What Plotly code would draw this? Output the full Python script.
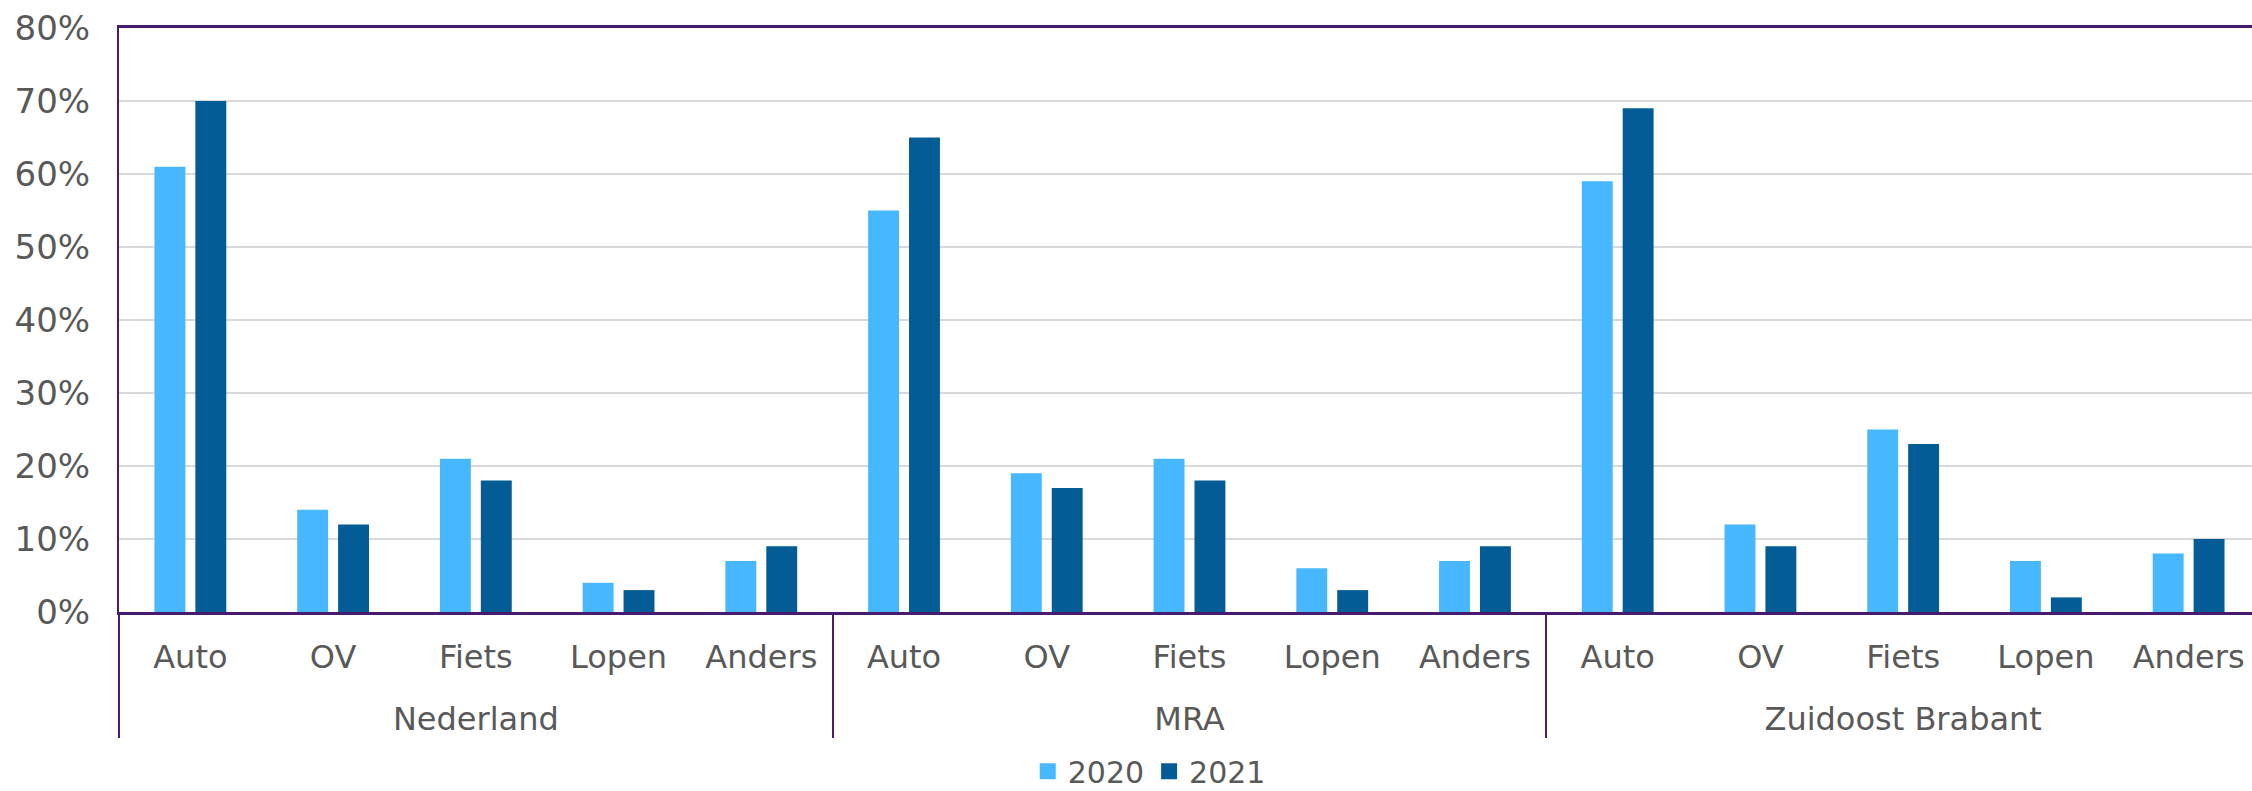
import plotly.graph_objects as go

regions = ["Nederland", "MRA", "Zuidoost Brabant"]
modes = ["Auto", "OV", "Fiets", "Lopen", "Anders"]
years = ["2020", "2021"]
values_2020 = [0.61, 0.14, 0.21, 0.04, 0.07,
               0.55, 0.19, 0.21, 0.06, 0.07,
               0.59, 0.12, 0.25, 0.07, 0.08]
values_2021 = [0.70, 0.12, 0.18, 0.03, 0.09,
               0.65, 0.17, 0.18, 0.03, 0.09,
               0.69, 0.09, 0.23, 0.02, 0.10]
y_ticks = [0, 0.1, 0.2, 0.3, 0.4, 0.5, 0.6, 0.7, 0.8]

colors = {"2020": "#47B8FF", "2021": "#035C96"}
TEXT = "#595959"
PURPLE = "#4A1A6E"
FONT = "DejaVu Sans"
FS = 32

nm = len(modes)
x_labels = [m for _ in regions for m in modes]
x_pos = list(range(len(x_labels)))
group_centers = [i * nm + (nm - 1) / 2 for i in range(len(regions))]
group_bounds = [i * nm - 0.5 for i in range(len(regions))]

fig = go.Figure()
for yr, vals in zip(years, [values_2020, values_2021]):
    fig.add_trace(go.Bar(
        x=x_pos, y=vals, name=yr,
        marker=dict(color=colors[yr], line=dict(width=0)),
        showlegend=False, xaxis="x", yaxis="y",
    ))
for yr, xa in zip(years, ["x2", "x3"]):
    fig.add_trace(go.Scatter(
        x=[None], y=[None], mode="markers", name=yr, xaxis=xa, yaxis="y",
        marker=dict(symbol="square", size=18, color=colors[yr]),
        showlegend=True,
    ))

xr = [-0.5, len(x_labels) - 0.556]
fig.update_layout(
    width=2252, height=791,
    margin=dict(l=119, r=0, t=28, b=179, autoexpand=False),
    paper_bgcolor="white", plot_bgcolor="white",
    font=dict(family=FONT, size=FS, color=TEXT),
    barmode="group", bargap=0.427, bargroupgap=0.244,
    legend=dict(orientation="h", x=0.483, xanchor="center",
                yref="container", y=0.025, yanchor="middle",
                font=dict(family=FONT, size=30, color=TEXT),
                itemclick=False, traceorder="normal"),
    xaxis=dict(range=xr, tickvals=x_pos, ticktext=x_labels,
               showline=True, linecolor=PURPLE, linewidth=3, mirror=True,
               showgrid=False, zeroline=False, ticks="", automargin=False,
               ticklabelstandoff=15,
               tickfont=dict(family=FONT, size=FS, color=TEXT)),
    xaxis2=dict(overlaying="x", matches="x", anchor="y", side="bottom",
                range=xr, tickvals=group_centers, ticktext=regions,
                showline=False, showgrid=False, zeroline=False, ticks="",
                automargin=False, ticklabelstandoff=85,
                tickfont=dict(family=FONT, size=FS, color=TEXT)),
    xaxis3=dict(overlaying="x", matches="x", anchor="y", side="bottom",
                range=xr, tickvals=group_bounds, showticklabels=False,
                showline=False, showgrid=False, zeroline=False,
                ticks="outside", ticklen=125, tickwidth=2, tickcolor=PURPLE,
                automargin=False),
    yaxis=dict(range=[0, 0.8], tickvals=y_ticks, tickformat=".0%",
               showline=True, linecolor=PURPLE, linewidth=2,
               showgrid=True, gridcolor="#D9D9D9", gridwidth=2,
               zeroline=False, ticks="", ticklabelstandoff=20,
               automargin=False,
               tickfont=dict(family=FONT, size=34, color=TEXT)),
)

fig.write_html("out.html", config={"displayModeBar": False},
               post_script="document.body.style.margin='0';")
